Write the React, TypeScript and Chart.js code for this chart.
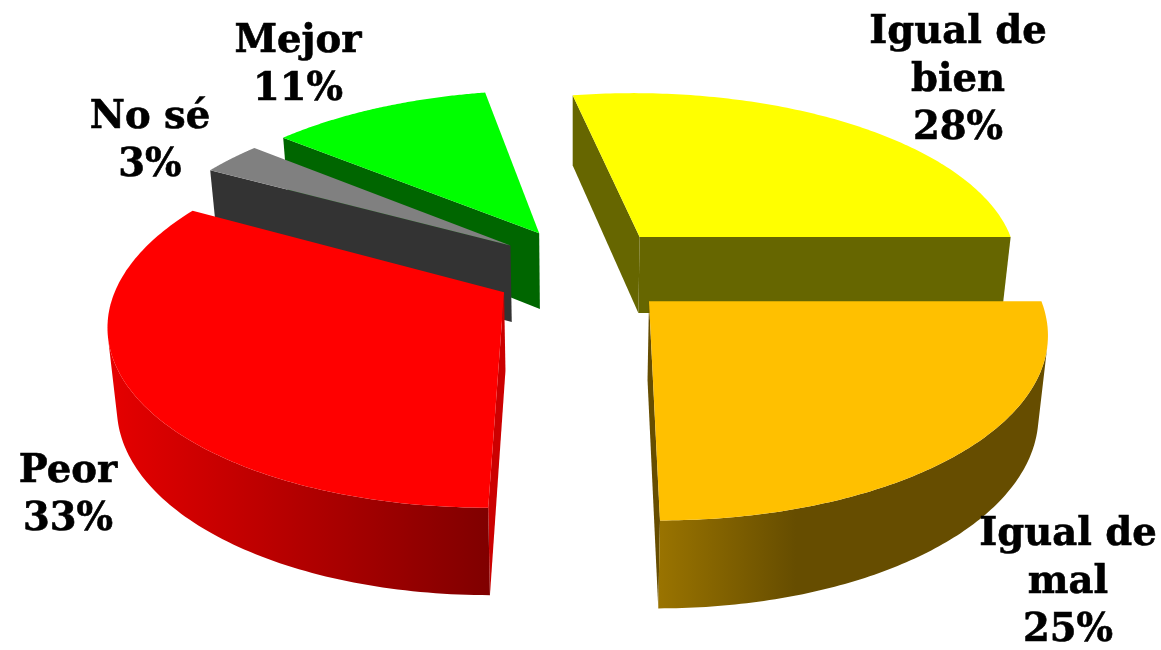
import React, { useEffect, useRef } from "react";
import { Chart, registerables } from "chart.js";

Chart.register(...registerables);

const categories = ["Igual de bien", "Igual de mal", "Peor", "No sé", "Mejor"];
const labelLines = [["Igual de", "bien"], ["Igual de", "mal"], ["Peor"], ["No sé"], ["Mejor"]];
const values = [28, 25, 33, 3, 11];

const topColors = ["#FFFF00", "#FFC000", "#FF0000", "#808080", "#00FF00"];
const sideColors = ["#666600", "#664D00", "#CC0000", "#333333", "#006600"];
const rimStart = ["#666600", "#997300", "#E60000", "#333333", "#006600"];
const rimEnd = ["#666600", "#664D00", "#800000", "#333333", "#006600"];
const labelAnchors = [
  { x: 958, y: 43 },
  { x: 1068, y: 545 },
  { x: 68, y: 482 },
  { x: 150, y: 128 },
  { x: 298, y: 52 },
];
const LINE_HEIGHT = 48;
const FONT = 'bold 38.5px "DejaVu Serif"';

const VIEW = { cx: 590, base: 400, persp: 0.16, yScale: 3, yShift: -876, originX: -0.017, originY: -0.297, offsetX: 0.95 };
const SOLID = { depth: 70, depthRef: 93, depthSlope: 0.042, shrink: 0.02, shrinkCx: 575 };

type P = { x: number; y: number };

function top(X: number, Y: number): P {
  const s = VIEW.base / (1 - VIEW.persp * Y);
  return { x: VIEW.cx + X * s, y: VIEW.yScale * s + VIEW.yShift };
}
function bottom(p: P): P {
  const d = SOLID.depth + (p.y - SOLID.depthRef) * SOLID.depthSlope;
  return { x: p.x + (SOLID.shrinkCx - p.x) * SOLID.shrink, y: p.y + d };
}
function area(pts: P[]) {
  let a = 0;
  for (let i = 0; i < pts.length; i++) {
    const p = pts[i];
    const q = pts[(i + 1) % pts.length];
    a += p.x * q.y - q.x * p.y;
  }
  return a / 2;
}
function poly(ctx: CanvasRenderingContext2D, pts: P[]) {
  ctx.beginPath();
  pts.forEach((p, i) => (i ? ctx.lineTo(p.x, p.y) : ctx.moveTo(p.x, p.y)));
  ctx.closePath();
}

const pie3d = {
  id: "pie3d",
  beforeDatasetsDraw(chart: any) {
    const ctx: CanvasRenderingContext2D = chart.ctx;
    const arcs = chart.getDatasetMeta(0).data;
    const slices = arcs.map((arc: any, i: number) => {
      const { startAngle, endAngle, outerRadius } = arc.getProps(["startAngle", "endAngle", "outerRadius"], true);
      const mid = (startAngle + endAngle) / 2;
      const off = arc.options.offset / outerRadius;
      const ax = VIEW.originX + Math.cos(mid) * off * VIEW.offsetX;
      const ay = VIEW.originY + Math.sin(mid) * off;
      const steps = 120;
      const rim: P[] = [];
      for (let k = 0; k <= steps; k++) {
        const t = startAngle + ((endAngle - startAngle) * k) / steps;
        rim.push(top(ax + Math.cos(t), ay + Math.sin(t)));
      }
      return { i, apex: top(ax, ay), rim, ay };
    });
    slices.sort((a: any, b: any) => a.ay - b.ay);
    ctx.save();
    for (const s of slices) {
      const { i, apex, rim } = s;
      const apexB = bottom(apex);
      const rimB: P[] = rim.map(bottom);
      const last = rim.length - 1;
      // Radial walls: only those facing the viewer
      const walls = [
        [rim[0], apex, apexB, rimB[0]],
        [apex, rim[last], rimB[last], apexB],
      ];
      for (const w of walls) {
        if (area(w) < 0) continue;
        ctx.fillStyle = sideColors[i];
        poly(ctx, w);
        ctx.fill();
      }
      // Outer rim: one polygon for each run of viewer-facing segments
      const xs = rim.map((p: P) => p.x);
      const grad = ctx.createLinearGradient(Math.min(...xs), 0, Math.max(...xs), 0);
      grad.addColorStop(0, rimStart[i]);
      if (i === 1) grad.addColorStop(0.35, rimEnd[i]);
      grad.addColorStop(1, rimEnd[i]);
      let runStart = -1;
      const flush = (end: number) => {
        if (runStart < 0) return;
        const upper = rim.slice(runStart, end + 1);
        const lower = rimB.slice(runStart, end + 1).reverse();
        ctx.fillStyle = grad;
        poly(ctx, [...upper, ...lower]);
        ctx.fill();
        runStart = -1;
      };
      for (let k = 0; k < last; k++) {
        const q = [rim[k + 1], rim[k], rimB[k], rimB[k + 1]];
        if (area(q) >= 0) {
          if (runStart < 0) runStart = k;
        } else {
          flush(k);
        }
      }
      flush(last);
      // Top face
      ctx.fillStyle = topColors[i];
      poly(ctx, [apex, ...rim]);
      ctx.fill();
    }
    // Labels
    ctx.fillStyle = "#000";
    ctx.strokeStyle = "#000";
    ctx.lineWidth = 0.6;
    ctx.font = FONT;
    ctx.textAlign = "center";
    ctx.textBaseline = "alphabetic";
    categories.forEach((_, i) => {
      const lines = [...labelLines[i], `${values[i]}%`];
      lines.forEach((line, n) => {
        const y = labelAnchors[i].y + n * LINE_HEIGHT;
        ctx.fillText(line, labelAnchors[i].x, y);
        ctx.strokeText(line, labelAnchors[i].x, y);
      });
    });
    ctx.restore();
    return false;
  },
};

export default function App() {
  const ref = useRef<HTMLCanvasElement>(null);
  useEffect(() => {
    const chart = new Chart(ref.current!, {
      type: "pie",
      data: {
        labels: categories,
        datasets: [{ data: values, backgroundColor: topColors, offset: 72, borderWidth: 0 }],
      },
      options: {
        responsive: false,
        animation: false,
        rotation: -10.8,
        layout: { padding: 0 },
        plugins: { legend: { display: false }, tooltip: { enabled: false } },
      },
      plugins: [pie3d],
    } as any);
    return () => chart.destroy();
  }, []);
  return (
    <div style={{ position: "absolute", left: 0, top: 0, width: 1161, height: 650, background: "#fff" }}>
      <canvas ref={ref} width={1161} height={650} style={{ display: "block" }} />
    </div>
  );
}
